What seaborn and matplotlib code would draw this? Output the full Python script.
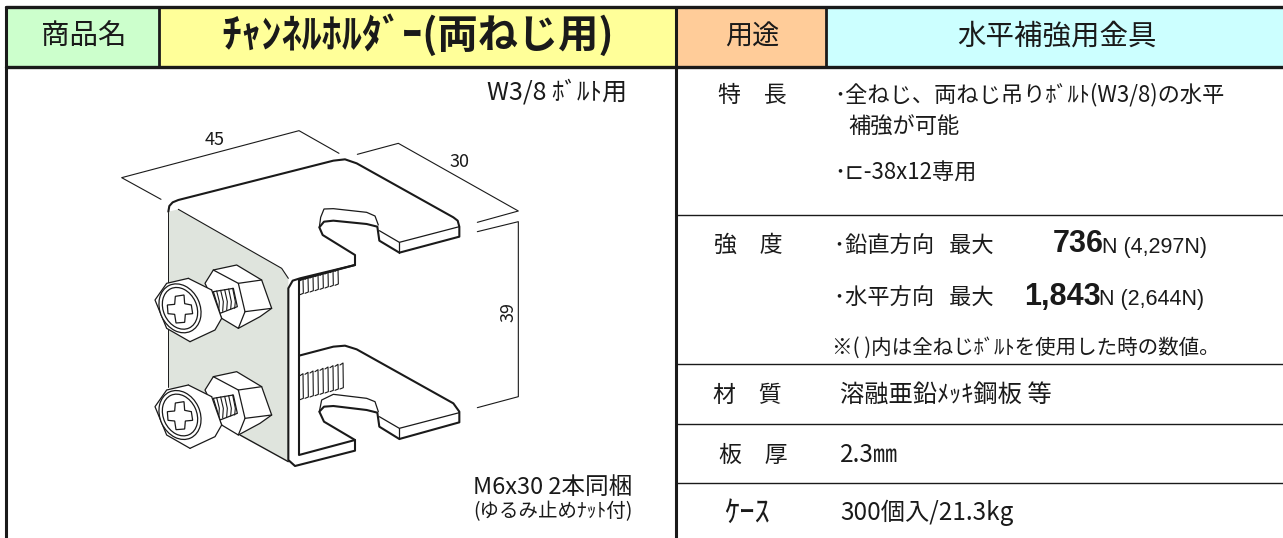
import matplotlib
matplotlib.use('Agg')
import matplotlib.pyplot as plt
import numpy as np
import seaborn as sns
from matplotlib.patches import Ellipse, Polygon, Rectangle

# table texts
header_labels = ['商品名', 'ﾁｬﾝﾈﾙﾎﾙﾀﾞｰ(両ねじ用)', '用途', '水平補強用金具']
row_labels = ['特　長', '強　度', '材　質', '板　厚', 'ｹｰｽ']
feature_lines = ['･全ねじ、両ねじ吊りﾎﾞﾙﾄ(W3/8)の水平', '補強が可能', '･⊏-38x12専用']
strength_lines = ['･鉛直方向   最大', '･水平方向   最大']
strength_values = ['736', '1,843']
strength_full = ['N (4,297N)', 'N (2,644N)']
strength_note = '※( )内は全ねじﾎﾞﾙﾄを使用した時の数値。'
material = '溶融亜鉛ﾒｯｷ鋼板 等'
thickness = '2.3㎜'
case = '300個入/21.3kg'
bolt_for = 'W3/8 ﾎﾞﾙﾄ用'
bundled = ['M6x30 2本同梱', '(ゆるみ止めﾅｯﾄ付)']
dim_labels = ['45', '30', '39']

header_colors = ['#ccffcc', '#ffff99', '#ffcc99', '#ccffff']
panel_color = '#dfe4dd'

sns.set_theme(style='white')
plt.rcParams['font.family'] = ['Noto Sans CJK JP', 'DejaVu Sans']

W, H = 1283, 538
fig, ax = plt.subplots(figsize=(W / 100, H / 100), dpi=100)
fig.subplots_adjust(0, 0, 1, 1)
ax.set_xlim(0, W)
ax.set_ylim(H, 0)
ax.axis('off')

# table frame
top, head_bottom = 7, 67
col_x = [6, 159, 676, 826, 1283]
row_y = [67, 215, 364, 424, 483, 538]
for i, c in enumerate(header_colors):
    ax.add_patch(Rectangle((col_x[i], top), col_x[i + 1] - col_x[i], head_bottom - top, fc=c, ec='none'))
ax.plot([col_x[0], W], [top, top], c='k', lw=2.4)
ax.plot([col_x[0], W], [head_bottom, head_bottom], c='k', lw=2.4)
ax.plot([col_x[0], col_x[0]], [top, H], c='k', lw=2.2)
ax.plot([col_x[1], col_x[1]], [top, head_bottom], c='k', lw=2)
ax.plot([col_x[2], col_x[2]], [top, H], c='k', lw=2.2)
ax.plot([col_x[3], col_x[3]], [top, head_bottom], c='k', lw=2)
for y in row_y[1:-1]:
    ax.plot([col_x[2], W], [y, y], c='k', lw=1.0)

# header
ax.text(84, 37, header_labels[0], ha='center', va='center', fontsize=20.5, color='k')
ax.text(418, 36, header_labels[1], ha='center', va='center', fontsize=29, color='k', fontweight='bold')
ax.text(752, 37, header_labels[2], ha='center', va='center', fontsize=19.5, color='k')
ax.text(1057, 37, header_labels[3], ha='center', va='center', fontsize=20.5, color='k')

# right side rows
label_x = [752, 748, 747, 753, 747]
label_y = [95, 245, 395, 455, 513]
label_size = [16.5, 16.5, 16.5, 16.5, 22]
for lab, x, y, s in zip(row_labels, label_x, label_y, label_size):
    ax.text(x, y, lab, ha='center', va='center', fontsize=s, color='k')

body = dict(va='center', fontsize=16, color='k')
ax.text(834, 95, feature_lines[0], ha='left', **body)
ax.text(848, 127, feature_lines[1], ha='left', **body)
ax.text(834, 173, feature_lines[2], ha='left', **body)
ax.text(834, 246, strength_lines[0], ha='left', **body)
ax.text(834, 298, strength_lines[1], ha='left', **body)
ax.text(1053, 244, strength_values[0], ha='left', va='center', fontsize=22, color='k',
        fontweight='bold', family='Liberation Sans')
ax.text(1024, 297, strength_values[1], ha='left', va='center', fontsize=22, color='k',
        fontweight='bold', family='Liberation Sans')
ax.text(1102, 248, strength_full[0], ha='left', va='center', fontsize=15.5, color='k', family='Liberation Sans')
ax.text(1099, 299, strength_full[1], ha='left', va='center', fontsize=15.5, color='k', family='Liberation Sans')
ax.text(832, 348, strength_note, ha='left', va='center', fontsize=14.8, color='k')
body['fontsize'] = 17.5
ax.text(840, 395, material, ha='left', **body)
ax.text(840, 455, thickness, ha='left', **body)
ax.text(840, 513, case, ha='left', **body)

# left panel captions
ax.text(627, 93, bolt_for, ha='right', va='center', fontsize=18, color='k')
ax.text(632, 488, bundled[0], ha='right', va='center', fontsize=17, color='k')
ax.text(633, 512, bundled[1], ha='right', va='center', fontsize=14, color='k')


# drawing, traced at 3x from the crop
def P(pts):
    a = np.array(pts, dtype=float)
    return a[:, 0] / 3 + 100, a[:, 1] / 3 + 110


def line(pts, lw=0.9):
    x, y = P(pts)
    ax.plot(x, y, c='k', lw=lw, solid_joinstyle='round', solid_capstyle='round', zorder=5)


def poly(pts, fc='white', lw=0.9, z=4):
    x, y = P(pts)
    ax.add_patch(Polygon(np.c_[x, y], closed=True, fc=fc, ec='k', lw=lw, joinstyle='round', zorder=z))


def ell(cx, cy, rx, ry, fc='white', lw=0.9):
    x, y = P([(cx, cy)])
    ax.add_patch(Ellipse((x[0], y[0]), 2 * rx / 3, 2 * ry / 3, angle=-25, fc=fc, ec='k', lw=lw, zorder=6))


# dimension lines
line([(183, 268), (65, 203), (597, 62), (717, 130)], 0.8)
line([(772, 133), (895, 100), (1255, 303), (1132, 337)], 0.8)
line([(1132, 365), (1255, 335), (1255, 860), (1132, 893)], 0.8)
for lab, (zx, zy), rot in zip(dim_labels, [(345, 90), (1077, 157), (1225, 605)], [0, 0, 90]):
    x, y = P([(zx, zy)])
    ax.text(x[0], y[0], lab, ha='center', va='center', fontsize=13, rotation=rot, color='k', zorder=6)

# gray side face
x, y = P([(205, 305), (235, 298), (545, 475), (565, 505), (565, 1055), (420, 975), (205, 830)])
ax.add_patch(Polygon(np.c_[x, y], closed=True, fc=panel_color, ec='none', zorder=1))
line([(205, 305), (205, 830)], 0.7)
line([(235, 298), (545, 475), (565, 505)], 0.8)
line([(420, 975), (565, 1055)], 1.0)

# top plate with its slot
line([(205, 305), (208, 288), (218, 277), (235, 270), (700, 152), (735, 148), (770, 160), (1060, 322), (1073, 332),
      (1078, 350), (1078, 380), (898, 428), (838, 392), (832, 350), (800, 342), (700, 332), (672, 335), (658, 352),
      (668, 375), (765, 435), (765, 465), (600, 505), (578, 512), (565, 535), (565, 1050), (585, 1068), (765, 1022),
      (765, 990), (672, 935), (658, 905), (672, 890), (700, 888), (800, 900), (832, 908), (838, 950), (898, 987),
      (1078, 937), (1078, 905), (1060, 880), (770, 718), (735, 707), (700, 710), (597, 737)], 1.5)
line([(1078, 350), (898, 397), (838, 362)], 0.9)
line([(898, 397), (898, 428)], 0.9)
line([(658, 352), (662, 322), (672, 297), (700, 296), (800, 307), (825, 318), (835, 345)], 0.9)
line([(1078, 908), (898, 955), (838, 920)], 0.9)
line([(898, 955), (898, 987)], 0.9)
line([(658, 905), (665, 870), (700, 853), (800, 865), (825, 875), (835, 905)], 0.9)
line([(597, 510), (765, 465)], 1.5)
line([(597, 510), (597, 1035), (765, 990)], 1.5)

# threads behind the web
for dy, n, x0, h in [(0, 8, 600, 40), (285, 9, 600, 70)]:
    for i in range(n):
        xs = x0 + i * 15
        line([(xs, 512 + dy - i * 4), (xs + 9, 506 + dy - i * 4), (xs + 10, 510 + dy + h - i * 4), (xs, 514 + dy + h - i * 4)], 0.8)


def bolt(dy):
    # nut
    poly([(315, 520 + dy), (340, 480 + dy), (410, 465 + dy), (485, 510 + dy), (515, 595 + dy), (480, 620 + dy),
          (415, 655 + dy), (365, 625 + dy)])
    line([(340, 480 + dy), (415, 520 + dy), (485, 510 + dy)])
    line([(415, 520 + dy), (435, 605 + dy), (415, 655 + dy)])
    line([(435, 605 + dy), (515, 595 + dy)])
    # shaft
    poly([(340, 545 + dy), (400, 535 + dy), (412, 590 + dy), (360, 610 + dy)], z=5)
    for i in range(5):
        xs = 350 + i * 12
        line([(xs, 543 + dy - i * 2), (xs + 8, 575 + dy), (xs + 6, 607 + dy - i * 3)], 0.8)
    # head
    poly([(165, 570 + dy), (200, 520 + dy), (265, 505 + dy), (335, 540 + dy), (365, 625 + dy), (345, 660 + dy),
          (270, 695 + dy), (200, 655 + dy)], z=6)
    line([(265, 505 + dy), (285, 560 + dy), (335, 540 + dy)])
    line([(285, 560 + dy), (300, 645 + dy), (270, 695 + dy)])
    line([(300, 645 + dy), (365, 625 + dy)])
    ell(240, 595 + dy, 60, 76)
    ell(240, 595 + dy, 50, 65)
    cross = [(-14, -38), (12, -42), (14, -16), (34, -12), (38, 14), (16, 16), (14, 40), (-12, 42), (-16, 16),
             (-36, 14), (-38, -12), (-16, -14)]
    x, y = P([(240 + a, 597 + dy + b) for a, b in cross])
    ax.add_patch(Polygon(np.c_[x, y], closed=True, fc='white', ec='k', lw=0.9, zorder=7))


bolt(0)
bolt(320)

fig.savefig('out.png', dpi=100)
